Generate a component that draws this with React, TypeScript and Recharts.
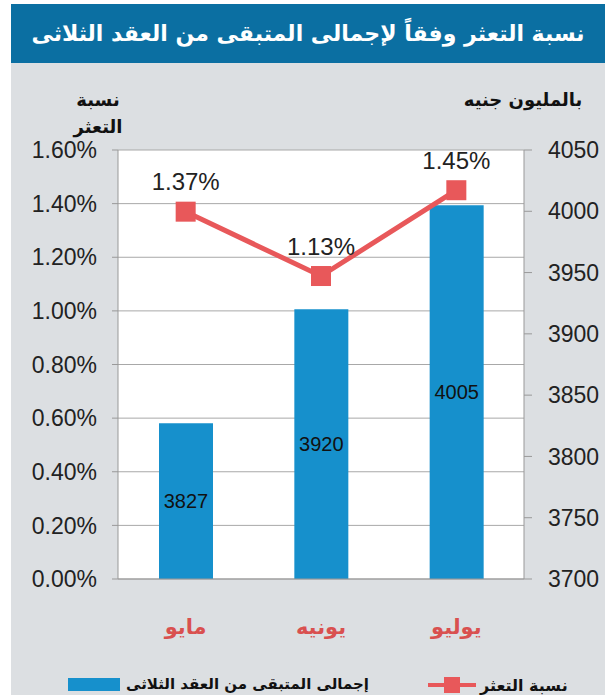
import React from 'react'
import {
  ComposedChart, Bar, Line, XAxis, YAxis, CartesianGrid, LabelList,
} from 'recharts'

const months = ['مايو', 'يونيه', 'يوليو']
const remaining = [3827, 3920, 4005]
const defaultRate = [1.37, 1.13, 1.45]
const rateTicks = [0, 0.2, 0.4, 0.6, 0.8, 1.0, 1.2, 1.4, 1.6]
const amountTicks = [3700, 3750, 3800, 3850, 3900, 3950, 4000, 4050]

const barName = 'إجمالى المتبقى من العقد الثلاثى'
const lineName = 'نسبة التعثر'

const BLUE = '#1690cc'
const RED = '#e8585a'
const ARABIC = '"DejaVu Sans", sans-serif'
const LATIN = '"Liberation Sans", Arial, sans-serif'

const data = months.map((m, i) => ({
  month: m,
  remaining: remaining[i],
  rate: defaultRate[i],
}))

const SquareDot = (props: any) => {
  const { cx, cy } = props
  if (cx == null || cy == null) return null
  return <rect x={cx - 10} y={cy - 10} width={20} height={20} fill={RED} />
}

const RateLabel = (props: any) => {
  const { x, y, value } = props
  return (
    <text x={x} y={y - 30} textAnchor="middle" dominantBaseline="central"
      fontSize={24} fill="#222" fontFamily={LATIN}>
      {Number(value).toFixed(2)}%
    </text>
  )
}

const MonthTick = (props: any) => {
  const { x, y, payload } = props
  return (
    <text x={x} y={y + 48} textAnchor="middle" dominantBaseline="central"
      fontSize={21} fontWeight={700} fill="#d9504f" fontFamily={ARABIC}>
      {payload.value}
    </text>
  )
}

export default function App() {
  return (
    <div style={{
      position: 'absolute', left: 0, top: 0, width: 605, height: 695,
      overflow: 'hidden', background: '#fff',
    }}>
      {/* card background + title */}
      <div style={{ position: 'absolute', left: 11, top: 4, right: 0, bottom: 0, background: '#dcdfe2' }} />
      <div style={{
        position: 'absolute', left: 11, top: 4, right: 0, height: 59, background: '#0b6fa2',
        color: '#fff', fontFamily: ARABIC, fontWeight: 700, fontSize: 22, whiteSpace: 'nowrap',
        display: 'flex', alignItems: 'center', justifyContent: 'center', direction: 'rtl',
      }}>
        نسبة التعثر وفقاً لإجمالى المتبقى من العقد الثلاثى
      </div>

      {/* axis titles */}
      <div style={{
        position: 'absolute', left: 58, top: 86, width: 80, textAlign: 'center',
        fontFamily: ARABIC, fontWeight: 700, fontSize: 18, lineHeight: '27px', color: '#111', direction: 'rtl',
      }}>
        نسبة<br />التعثر
      </div>
      <div style={{
        position: 'absolute', left: 448, top: 86, width: 150, textAlign: 'center',
        fontFamily: ARABIC, fontWeight: 700, fontSize: 18, lineHeight: '27px', color: '#111', direction: 'rtl',
      }}>
        بالمليون جنيه
      </div>

      <div style={{ position: 'absolute', left: 0, top: 0 }}>
        <ComposedChart width={605} height={695} data={data}
          margin={{ top: 150, right: 0, bottom: 56, left: 0 }}>
          <CartesianGrid yAxisId="rate" vertical={false} stroke="#a8a8a8" fill="#fff" />
          <XAxis dataKey="month" height={60} tickLine={false} tickSize={0} tickMargin={0}
            axisLine={{ stroke: '#999' }} tick={<MonthTick />} interval={0} />
          <YAxis yAxisId="rate" orientation="left" width={118} domain={[0, 1.6]}
            ticks={rateTicks} interval={0} tickFormatter={(v: number) => v.toFixed(2) + '%'}
            tickSize={6} tickMargin={15} axisLine={{ stroke: '#999' }} tickLine={{ stroke: '#999' }}
            tick={{ fontSize: 23, fill: '#222', fontFamily: LATIN }} />
          <YAxis yAxisId="amount" orientation="right" width={81} domain={[3700, 4050]}
            ticks={amountTicks} interval={0}
            tickSize={8} tickMargin={16} axisLine={{ stroke: '#999' }} tickLine={{ stroke: '#999' }}
            tick={{ fontSize: 23, fill: '#222', fontFamily: LATIN, textAnchor: 'start' }} />
          <Bar yAxisId="amount" dataKey="remaining" name={barName} fill={BLUE} barSize={54}
            isAnimationActive={false}>
            <LabelList dataKey="remaining" position="center" fill="#111" fontSize={20}
              fontFamily={LATIN} />
          </Bar>
          <Line yAxisId="rate" dataKey="rate" name={lineName} stroke={RED} strokeWidth={5}
            dot={<SquareDot />} activeDot={false} isAnimationActive={false}>
            <LabelList dataKey="rate" content={<RateLabel />} />
          </Line>
        </ComposedChart>
      </div>

      {/* legend */}
      <div style={{
        position: 'absolute', left: 428, top: 675, display: 'flex', alignItems: 'center',
        fontFamily: ARABIC, fontWeight: 700, fontSize: 16, color: '#111', whiteSpace: 'nowrap',
      }}>
        <svg width={48} height={20}>
          <line x1={0} y1={10} x2={48} y2={10} stroke={RED} strokeWidth={4} />
          <rect x={16} y={2} width={16} height={16} fill={RED} />
        </svg>
        <span style={{ marginLeft: 4, direction: 'rtl' }}>{lineName}</span>
      </div>
      <div style={{
        position: 'absolute', left: 68, top: 675, display: 'flex', alignItems: 'center',
        fontFamily: ARABIC, fontWeight: 700, fontSize: 15, color: '#111', whiteSpace: 'nowrap',
      }}>
        <div style={{ width: 52, height: 13, background: BLUE }} />
        <span style={{ marginLeft: 6, direction: 'rtl' }}>{barName}</span>
      </div>
    </div>
  )
}
